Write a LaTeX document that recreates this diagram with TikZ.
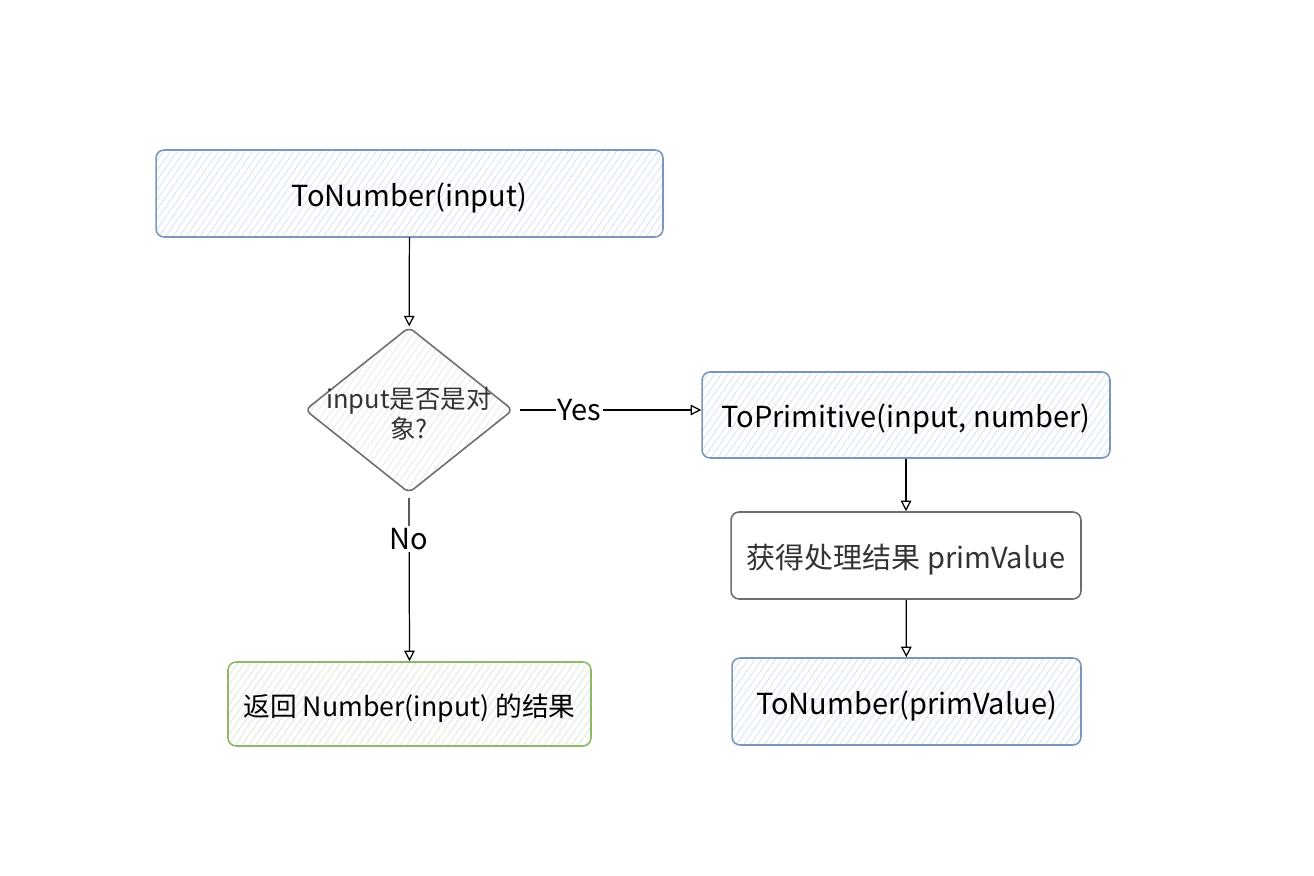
\documentclass[tikz,border=0pt]{standalone}
\usepackage{fontspec}
\setmainfont{Noto Sans CJK SC}
\usetikzlibrary{shapes.geometric,arrows.meta,patterns.meta}
\begin{document}
\begin{tikzpicture}[x=0.02cm, y=-0.02cm,
    box/.style={draw, rounded corners=0.16cm, line width=0.9pt, minimum height=1.74cm,
      inner sep=0pt, text height=14.5pt, text depth=0pt, font=\fontsize{16.5}{20}\selectfont},
    hatch/.style={pattern={Lines[angle=55,distance=3.2pt,line width=0.4pt]}, pattern color=#1},
    bluebox/.style={box, draw=box-blue, hatch=hatch-blue},
    greenbox/.style={box, draw=box-green, hatch=hatch-green, font=\fontsize{15.2}{20}\selectfont},
    graybox/.style={box, draw=box-gray, text=txt-gray, fill=white},
    decision/.style={diamond, draw=box-gray, line width=0.9pt, hatch=hatch-gray, rounded corners=0.12cm,
      minimum width=4.16cm, minimum height=3.32cm, inner sep=0pt},
    arr/.style={-{Triangle[open,length=6pt,width=6pt]}, line width=0.7pt},
    lbl/.style={fill=white, inner sep=1pt, font=\fontsize{16.5}{20}\selectfont}]
    \definecolor{box-blue}{HTML}{7B96B8}
    \definecolor{hatch-blue}{HTML}{CFE0F2}
    \definecolor{box-green}{HTML}{8DB86A}
    \definecolor{hatch-green}{HTML}{D8E8D0}
    \definecolor{box-gray}{HTML}{6E6E6E}
    \definecolor{hatch-gray}{HTML}{E6E6E6}
    \definecolor{txt-gray}{HTML}{333333}
    \useasboundingbox (0,0) rectangle (1314,875);
    % left column
    \node[bluebox, minimum width=10.14cm] (tonum) at (409.5,193.5) {ToNumber(input)};
    \node[decision, label={[align=center, text=txt-gray, font=\fontsize{14.5}{17}\selectfont,
      yshift=-0.08cm]center:input是否是对\\象?}] (isobj) at (409,410) {};
    \node[greenbox, minimum width=7.26cm, minimum height=1.68cm] (ret) at (409.5,704) {返回 Number(input) 的结果};
    % right column
    \node[bluebox, minimum width=8.16cm, minimum height=1.72cm] (toprim) at (906,415) {ToPrimitive(input, number)};
    \node[graybox, minimum width=7cm] (prim) at (906,555.5) {获得处理结果 primValue};
    \node[bluebox, minimum width=6.98cm] (tonumprim) at (906.5,701.5) {ToNumber(primValue)};
    % connectors
    \draw[arr] (tonum) -- (isobj);
    \draw[arr, shorten <=0.12cm] (isobj.east) -- node[lbl, pos=0.35] (yes) {Yes} (isobj.east -| toprim.west);
    \draw[arr, shorten <=0.08cm] (isobj.south) -- node[lbl, pos=0.27] (no) {No} (ret.north);
    \draw[arr] (toprim) -- (prim);
    \draw[arr] (prim) -- (tonumprim);
\end{tikzpicture}
\end{document}
